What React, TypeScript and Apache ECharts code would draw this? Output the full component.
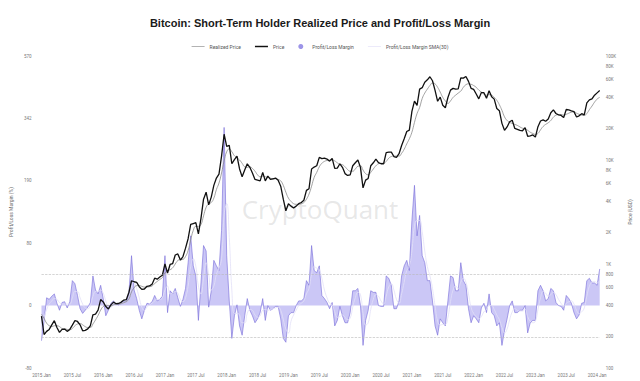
import React, { useEffect, useRef } from 'react';
import * as echarts from 'echarts';

// ---- categories (semi-monthly, 2015-01-01 .. 2024-01-15) ----
const START_YEAR = 2015;
const END_YEAR = 2024;
const DAYS = ['01', '15'];
const DATES: string[] = [];
for (let y = START_YEAR; y <= END_YEAR; y++) {
  for (let m = 1; m <= 12; m++) {
    for (const d of DAYS) {
      if (y === END_YEAR && m > 1) continue;
      DATES.push(`${y}-${String(m).padStart(2, '0')}-${d}`);
    }
  }
}

// ---- Price (USD) ----
const PRICE_2015 = [315, 210, 225, 235, 260, 285, 245, 220, 235, 237, 225, 235, 258, 285, 280, 260, 228, 230, 238, 255, 325, 330, 360, 455];
const PRICE_2016 = [432, 390, 370, 405, 430, 415, 417, 430, 450, 455, 535, 690, 675, 665, 605, 570, 575, 610, 615, 640, 730, 715, 750, 780];
const PRICE_2017 = [1000, 820, 990, 1010, 1220, 1250, 1090, 1180, 1420, 1750, 2400, 2450, 2500, 1950, 2750, 4200, 4900, 3700, 4400, 5700, 6700, 7300, 10900, 17700];
const PRICE_2018 = [13500, 13800, 9200, 10100, 10900, 8200, 6900, 8000, 9200, 8500, 7500, 6500, 6400, 6300, 7600, 6300, 7000, 6500, 6600, 6700, 6400, 5600, 4200, 3250];
const PRICE_2019 = [3800, 3600, 3450, 3600, 3800, 3900, 4100, 5100, 5300, 8200, 8550, 8800, 10600, 10300, 10400, 10200, 9750, 10350, 8300, 8350, 9200, 8500, 7400, 7100];
const PRICE_2020 = [7200, 8800, 9400, 10000, 8500, 5400, 6400, 6650, 8800, 9400, 10200, 9450, 9200, 9200, 11800, 11900, 11900, 10800, 10600, 11500, 13800, 16000, 18800, 19400];
const PRICE_2021 = [29400, 36800, 33500, 48000, 49600, 56000, 59000, 63200, 57800, 46700, 36700, 40200, 33600, 31800, 39900, 47000, 48800, 48100, 48200, 61700, 61300, 63600, 57000, 48900];
const PRICE_2022 = [47700, 43100, 38700, 44500, 44400, 39300, 46300, 40500, 38500, 31300, 29800, 22500, 19300, 20800, 23300, 24100, 20100, 19700, 19300, 19100, 20500, 16900, 17100, 17400];
const PRICE_2023 = [16600, 20900, 23700, 24300, 23600, 24800, 28500, 30300, 28000, 27200, 26800, 25600, 30600, 30300, 29700, 29200, 25900, 26600, 27900, 27200, 35400, 37800, 38700, 42000];
const PRICE_2024 = [44200, 46500];

// ---- Short-term holder realized price (USD) ----
const RP_2015 = [330, 300, 270, 255, 250, 255, 255, 250, 240, 238, 235, 233, 240, 255, 265, 268, 260, 250, 245, 245, 265, 290, 320, 360];
const RP_2016 = [390, 400, 400, 395, 405, 410, 412, 415, 425, 435, 460, 540, 590, 620, 620, 610, 600, 600, 605, 615, 650, 680, 710, 740];
const RP_2017 = [820, 860, 880, 920, 1000, 1080, 1100, 1110, 1180, 1350, 1700, 2100, 2300, 2300, 2400, 2900, 3500, 3800, 3900, 4300, 5200, 6000, 7500, 9800];
const RP_2018 = [12000, 12800, 12000, 11000, 10500, 10000, 9300, 8600, 8500, 8600, 8300, 7800, 7200, 6900, 7000, 6900, 6800, 6700, 6600, 6600, 6500, 6300, 5700, 4900];
const RP_2019 = [4300, 4000, 3800, 3750, 3750, 3800, 3900, 4200, 4700, 5600, 6800, 7600, 8600, 9300, 9700, 9900, 10000, 10000, 9800, 9400, 9100, 9000, 8600, 8100];
const RP_2020 = [7800, 7800, 8200, 8700, 8800, 8000, 7400, 7200, 7600, 8200, 8800, 9200, 9300, 9300, 9700, 10400, 10800, 10900, 10900, 10900, 11600, 12700, 14300, 16000];
const RP_2021 = [18500, 23000, 28000, 32000, 39000, 44000, 48000, 52000, 55000, 54000, 50000, 45000, 40000, 37000, 35000, 37000, 40000, 42000, 44000, 46000, 50000, 53000, 54000, 53500];
const RP_2022 = [52000, 50000, 47000, 45000, 43000, 42000, 42500, 42000, 40000, 37500, 34000, 30000, 26000, 24000, 23000, 22500, 22000, 21500, 20800, 20200, 20000, 19300, 18500, 18000];
const RP_2023 = [17600, 18000, 19500, 21000, 22000, 22800, 24000, 25800, 27000, 27400, 27400, 27000, 27500, 28200, 28800, 29000, 28200, 27500, 27000, 26800, 28000, 30500, 33000, 36000];
const RP_2024 = [38500, 40000];

// ---- Profit/Loss Margin (%) ----
const PLM_2015 = [-45, -20, 10, 8, 12, 15, 3, -6, 4, 5, -3, 5, 32, 28, 13, -4, -10, -6, -2, 4, 38, 20, 15, 26];
const PLM_2016 = [9, -13, -6, 3, 6, 2, 1, 4, 6, 5, 17, 64, 20, 9, -6, -17, -6, 3, 2, 5, 13, 6, 8, 12];
const PLM_2017 = [64, -9, 19, 15, 22, 10, -1, 8, 22, 55, 93, 51, 38, -19, 29, 77, 70, -2, 19, 58, 51, 45, 102, 320];
const PLM_2018 = [64, 6, -42, -13, 1, -26, -38, -13, 9, -6, -13, -22, -17, -9, 9, -19, 0, -6, -4, -1, -1, -17, -42, -47];
const PLM_2019 = [-13, -9, -9, 0, 6, 6, 9, 32, 26, 77, 45, 42, 51, 13, 9, 4, -4, 4, -26, -19, -1, -13, -22, -22];
const PLM_2020 = [-9, 19, 19, 22, 0, -51, -19, -6, 19, 17, 17, 0, -1, -1, 38, 35, 26, -4, -4, 6, 38, 51, 58, 45];
const PLM_2021 = [120, 182, 93, 129, 64, 55, 32, 32, 6, -26, -38, -17, -22, -26, 6, 38, 36, 19, 19, 55, 32, 26, -4, -22];
const PLM_2022 = [-13, -17, -22, -3, 3, -9, 15, -9, -13, -26, -22, -51, -32, -17, 0, 6, -9, -9, -6, -6, 0, -35, -22, -19];
const PLM_2023 = [-19, 19, 26, 19, 6, 9, 22, 19, 4, 0, -1, -6, 13, 9, 3, -9, -17, -12, 3, 4, 32, 35, 29, 29];
const PLM_2024 = [26, 47];

// ---- Profit/Loss Margin SMA(30) (%) ----
const SMA_2015 = [-30, -15, -5, 2, 6, 9, 8, 4, 2, 2, 2, 2, 10, 18, 18, 10, 2, -3, -4, 0, 12, 18, 18, 20];
const SMA_2016 = [16, 6, -2, -2, 2, 3, 3, 3, 4, 5, 8, 25, 30, 22, 10, -2, -6, -2, 1, 3, 6, 8, 8, 10];
const SMA_2017 = [20, 25, 15, 16, 18, 16, 8, 5, 10, 25, 50, 60, 50, 25, 15, 35, 55, 40, 20, 25, 40, 48, 60, 130];
const SMA_2018 = [150, 90, 20, -10, -10, -12, -22, -22, -10, -5, -6, -12, -15, -13, -6, -5, -6, -5, -4, -3, -2, -6, -18, -30];
const SMA_2019 = [-35, -20, -12, -6, 0, 3, 6, 15, 22, 40, 50, 48, 46, 35, 20, 10, 3, 1, -8, -15, -14, -12, -15, -18];
const SMA_2020 = [-16, -2, 10, 17, 14, -10, -25, -22, -5, 8, 14, 12, 6, 2, 12, 24, 28, 20, 8, 3, 15, 30, 45, 50];
const SMA_2021 = [70, 110, 120, 120, 100, 70, 50, 38, 22, 0, -20, -25, -24, -24, -15, 5, 20, 25, 22, 30, 35, 30, 15, -2];
const SMA_2022 = [-10, -14, -17, -14, -8, -5, 0, 0, -5, -12, -18, -28, -35, -30, -18, -8, -4, -6, -7, -7, -5, -14, -20, -22];
const SMA_2023 = [-20, -5, 10, 18, 16, 12, 14, 17, 14, 8, 3, -1, 3, 5, 6, 2, -6, -10, -8, -3, 12, 25, 30, 31];
const SMA_2024 = [29, 32];

const PRICE = [...PRICE_2015, ...PRICE_2016, ...PRICE_2017, ...PRICE_2018, ...PRICE_2019, ...PRICE_2020, ...PRICE_2021, ...PRICE_2022, ...PRICE_2023, ...PRICE_2024];
const REALIZED = [...RP_2015, ...RP_2016, ...RP_2017, ...RP_2018, ...RP_2019, ...RP_2020, ...RP_2021, ...RP_2022, ...RP_2023, ...RP_2024];
const MARGIN = [...PLM_2015, ...PLM_2016, ...PLM_2017, ...PLM_2018, ...PLM_2019, ...PLM_2020, ...PLM_2021, ...PLM_2022, ...PLM_2023, ...PLM_2024];
const MARGIN_SMA = [...SMA_2015, ...SMA_2016, ...SMA_2017, ...SMA_2018, ...SMA_2019, ...SMA_2020, ...SMA_2021, ...SMA_2022, ...SMA_2023, ...SMA_2024];

// ---- tick labels ----
const MARGIN_TICKS = [-80, 0, 80, 190, 342, 570]; // left axis (pseudo-log spacing)
const MARGIN_BANDS = [40, -40]; // dashed reference lines
const PRICE_TICKS = [100, 200, 400, 600, 800, 1000, 2000, 4000, 6000, 8000, 10000, 20000, 40000, 60000, 80000, 100000];
const MONTH_NAMES: Record<string, string> = { '01': 'Jan', '07': 'Jul' };

// piecewise scale for the left axis: tick i sits at axis unit (i - 1)
function toAxis(v: number): number {
  const t = MARGIN_TICKS;
  for (let i = 0; i < t.length - 1; i++) {
    if (v <= t[i + 1] || i === t.length - 2) {
      return i - 1 + (v - t[i]) / (t[i + 1] - t[i]);
    }
  }
  return 0;
}

const FONT = 'Roboto';
const LINE_ICON_THIN = 'path://M0,0H40V2H0Z';
const LINE_ICON_THICK = 'path://M0,0H40V4.5H0Z';

export default function App() {
  const ref = useRef<HTMLDivElement>(null);
  useEffect(() => {
    const chart = echarts.init(ref.current as HTMLDivElement, null, { renderer: 'svg' });
    const option: any = {
      animation: false,
      backgroundColor: '#ffffff',
      textStyle: { fontFamily: FONT },
      title: {
        text: 'Bitcoin: Short-Term Holder Realized Price and Profit/Loss Margin',
        left: 'center',
        top: 12,
        textStyle: { fontSize: 11, fontWeight: 'bold', color: '#1a1a1a', fontFamily: 'Liberation Sans' },
      },
      legend: {
        top: 39,
        left: 'center',
        itemWidth: 13,
        itemHeight: 5,
        itemGap: 14,
        symbolKeepAspect: true,
        textStyle: { fontSize: 5, color: '#555' },
        data: [
          { name: 'Realized Price', icon: LINE_ICON_THIN, itemStyle: { color: '#8a8a8a' } },
          { name: 'Price', icon: LINE_ICON_THICK, itemStyle: { color: '#111111' } },
          { name: 'Profit/Loss Margin', icon: 'circle', itemStyle: { color: '#9d95e8' } },
          { name: 'Profit/Loss Margin SMA(30)', icon: LINE_ICON_THIN, itemStyle: { color: '#e2dff8' } },
        ],
      },
      graphic: [
        {
          type: 'text',
          left: 'center',
          top: 196,
          z: 0,
          style: { text: 'CryptoQuant', fontSize: 26, fill: 'rgba(175,175,175,0.3)', fontFamily: 'Open Sans' },
        },
      ],
      grid: { left: 38, right: 32, top: 56, bottom: 13 },
      xAxis: {
        type: 'category',
        data: DATES,
        boundaryGap: false,
        axisLine: { show: false },
        axisTick: { show: false },
        axisLabel: {
          interval: 11,
          fontSize: 4.5,
          color: '#777',
          margin: 5,
          formatter: (v: string) => `${v.slice(0, 4)} ${MONTH_NAMES[v.slice(5, 7)] || ''}`,
        },
        splitLine: { show: false },
      },
      yAxis: [
        {
          type: 'value',
          position: 'left',
          min: -1,
          max: 4,
          interval: 1,
          name: 'Profit/Loss Margin (%)',
          nameLocation: 'middle',
          nameGap: 22,
          nameTextStyle: { fontSize: 5, color: '#666' },
          axisLine: { show: false },
          axisTick: { show: false },
          splitLine: { show: false },
          axisLabel: {
            fontSize: 4.5,
            color: '#777',
            margin: 10,
            formatter: (v: number) => String(MARGIN_TICKS[Math.round(v) + 1]),
          },
        },
        {
          type: 'log',
          logBase: 10,
          position: 'right',
          min: 100,
          max: 100000,
          name: 'Price (USD)',
          nameLocation: 'middle',
          nameGap: 20,
          nameTextStyle: { fontSize: 5, color: '#666' },
          axisLine: { show: false },
          axisTick: { show: false, customValues: PRICE_TICKS },
          splitLine: { show: false },
          axisLabel: {
            fontSize: 4.5,
            color: '#777',
            margin: 6,
            customValues: PRICE_TICKS,
            formatter: (v: number) => (v >= 1000 ? `${Math.round(v / 1000)}K` : String(Math.round(v))),
          },
        },
      ],
      series: [
        {
          name: 'Profit/Loss Margin',
          type: 'line',
          yAxisIndex: 0,
          data: MARGIN.map(toAxis),
          symbol: 'none',
          itemStyle: { color: '#9d95e8' },
          lineStyle: { width: 0.6, color: '#7468d8' },
          areaStyle: { color: 'rgba(128,118,232,0.58)' },
          z: 1,
          markLine: {
            silent: true,
            symbol: ['none', 'none'],
            label: { show: false },
            lineStyle: { type: 'dashed', color: '#b8b8b8', width: 0.6 },
            data: MARGIN_BANDS.map((b) => ({ yAxis: toAxis(b) })),
          },
        },
        {
          name: 'Profit/Loss Margin SMA(30)',
          type: 'line',
          yAxisIndex: 0,
          data: MARGIN_SMA.map(toAxis),
          symbol: 'none',
          smooth: true,
          itemStyle: { color: '#e2dff8' },
          lineStyle: { width: 0.8, color: '#e2dff8' },
          z: 2,
        },
        {
          name: 'Realized Price',
          type: 'line',
          yAxisIndex: 1,
          data: REALIZED,
          symbol: 'none',
          smooth: true,
          itemStyle: { color: '#8a8a8a' },
          lineStyle: { width: 0.8, color: '#8a8a8a' },
          z: 3,
        },
        {
          name: 'Price',
          type: 'line',
          yAxisIndex: 1,
          data: PRICE,
          symbol: 'none',
          itemStyle: { color: '#111111' },
          lineStyle: { width: 1.3, color: '#111111' },
          z: 4,
        },
      ],
    };
    chart.setOption(option);
    return () => chart.dispose();
  }, []);
  return (
    <div
      ref={ref}
      style={{ position: 'fixed', left: 0, top: 0, width: 640, height: 381, background: '#fff' }}
    />
  );
}
